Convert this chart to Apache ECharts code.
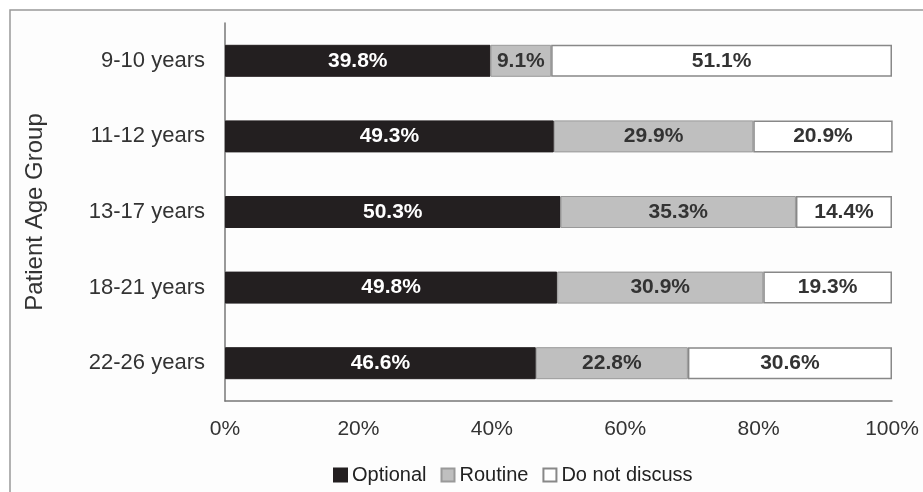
<!DOCTYPE html>
<html>
<head>
<meta charset="utf-8">
<script src="https://cdn.jsdelivr.net/npm/echarts@6/dist/echarts.min.js"></script>
<style>
  html, body { margin: 0; padding: 0; background: #fff; }
  #main { width: 923px; height: 492px; }
</style>
</head>
<body>
<div id="main"></div>
<script>
var categories = ['9-10 years', '11-12 years', '13-17 years', '18-21 years', '22-26 years'];
var optionalData = [39.8, 49.3, 50.3, 49.8, 46.6];
var routineData = [9.1, 29.9, 35.3, 30.9, 22.8];
var notDiscussData = [51.1, 20.9, 14.4, 19.3, 30.6];
var xTicks = [0, 20, 40, 60, 80, 100];

var chartDom = document.getElementById('main');
var myChart = echarts.init(chartDom);
var option;

function lbl(color) {
  return {
    show: true,
    position: 'inside',
    color: color,
    fontWeight: 'bold',
    fontSize: 21,
    fontFamily: 'Liberation Sans, Arial, sans-serif',
    formatter: function (p) { return p.value.toFixed(1) + '%'; }
  };
}

option = {
  backgroundColor: '#fff',
  textStyle: { fontFamily: 'Liberation Sans, Arial, sans-serif' },
  graphic: [{
    type: 'rect',
    shape: { x: 10, y: 10, width: 930, height: 500 },
    style: { fill: '#fdfdfd', stroke: '#999', lineWidth: 1.5 },
    z: -10
  }],
  legend: {
    top: 460,
    left: 328,
    itemWidth: 13,
    itemHeight: 13,
    itemGap: 14,
    textStyle: { fontSize: 20, color: '#222' },
    data: [
      { name: 'Optional', icon: 'rect' },
      { name: 'Routine', icon: 'rect' },
      { name: 'Do not discuss', icon: 'rect' }
    ]
  },
  grid: { left: 225, right: 31, top: 23, bottom: 91 },
  xAxis: {
    type: 'value',
    min: 0,
    max: 100,
    interval: 20,
    axisLine: { show: true, lineStyle: { color: '#777', width: 1.5 } },
    axisTick: { show: false },
    splitLine: { show: false },
    axisLabel: {
      fontSize: 21,
      color: '#333',
      margin: 18,
      formatter: function (v) { return xTicks.indexOf(v) >= 0 ? v + '%' : ''; }
    }
  },
  yAxis: {
    type: 'category',
    inverse: true,
    data: categories,
    name: 'Patient Age Group',
    nameLocation: 'middle',
    nameGap: 178,
    nameTextStyle: { fontSize: 24, color: '#333' },
    axisLine: { show: true, lineStyle: { color: '#777', width: 1.5 } },
    axisTick: { show: false },
    axisLabel: { fontSize: 22, color: '#333', margin: 20 }
  },
  series: [
    {
      name: 'Optional',
      type: 'bar',
      stack: 'total',
      barWidth: 32,
      data: optionalData,
      itemStyle: { color: '#231f20', borderColor: '#231f20', borderWidth: 1 },
      label: lbl('#fff')
    },
    {
      name: 'Routine',
      type: 'bar',
      stack: 'total',
      barWidth: 32,
      data: routineData,
      itemStyle: { color: '#bfbfbf', borderColor: '#999', borderWidth: 1 },
      label: lbl('#333')
    },
    {
      name: 'Do not discuss',
      type: 'bar',
      stack: 'total',
      barWidth: 32,
      data: notDiscussData,
      itemStyle: { color: '#ffffff', borderColor: '#888', borderWidth: 1.5 },
      label: lbl('#333')
    }
  ]
};
option && myChart.setOption(option);
</script>
</body>
</html>
